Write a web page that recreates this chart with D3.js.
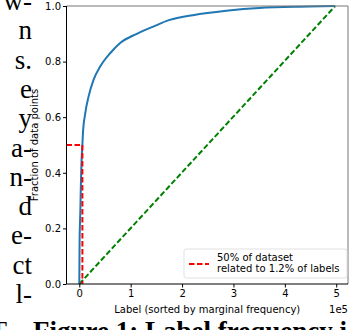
<!DOCTYPE html>
<html>
<head>
<meta charset="utf-8">
<script src="https://cdn.jsdelivr.net/npm/d3@7"></script>
<style>
    body {margin: 0; background: #fff;}
    svg {display: block;}
</style>
</head>
<body>
<svg id="chart" width="354" height="330"></svg>
<script>
// ---- data ----
const labelRank = [0, 300, 600, 1200, 2000, 3000, 5000, 6000, 7000, 11600, 18000, 27700, 40600,
    60000, 79000, 112000, 144000, 176000, 221000, 286000, 350000, 447000, 498000];
const cumFraction = [0, 0.08, 0.16, 0.21, 0.26, 0.35, 0.47, 0.50, 0.54, 0.614, 0.674, 0.734, 0.782,
    0.83, 0.866, 0.90, 0.926, 0.95, 0.967, 0.983, 0.993, 0.998, 1.0];
const uniformRank = [0, 498000];
const uniformFraction = [0, 1];
const cutoffRank = 6000,
    cutoffFraction = 0.5;
const xTicks = [0, 1e5, 2e5, 3e5, 4e5, 5e5];
const yTicks = [0, 0.2, 0.4, 0.6, 0.8, 1.0];
const legendLines = ["50% of dataset", "related to 1.2% of labels"];
const sideWords = ["w-", "n", "s.", "e", "y", "a-", "n-", "d", "e-", "ct", "l-"];
const captionText = "Figure 1: Label frequency i";

// ---- layout ----
const plot = {left: 66.5, right: 348, top: 6, bottom: 284};
const sansFont = "DejaVu Sans, sans-serif";
const serifFont = "Liberation Serif, Times New Roman, serif";

const svg = d3.select("#chart");

let x = d3.scaleLinear()
    .domain([-24900, 522900])
    .range([plot.left, plot.right]);
let y = d3.scaleLinear()
    .domain([0, 1])
    .range([plot.bottom, plot.top]);

// surrounding paper text (cut off by the crop)
svg.append("g")
    .attr("font-family", serifFont)
    .attr("font-size", 27)
    .attr("text-anchor", "end")
    .selectAll("text")
    .data(sideWords)
    .join("text")
    .attr("x", 32)
    .attr("y", (d, i) => 10 + i * 29.3)
    .text(d => d);

svg.append("text")
    .attr("x", 33)
    .attr("y", 340)
    .attr("font-family", serifFont)
    .attr("font-weight", "bold")
    .attr("font-size", 27)
    .text(captionText);
svg.append("text")
    .attr("x", 7)
    .attr("y", 340)
    .attr("text-anchor", "end")
    .attr("font-family", serifFont)
    .attr("font-size", 27)
    .text("T");

// axes
svg.append("g")
    .attr("transform", `translate(0,${plot.bottom})`)
    .call(d3.axisBottom(x).tickValues(xTicks).tickSize(3.5).tickPadding(2).tickFormat(d => d / 1e5))
    .call(g => g.select(".domain").remove())
    .call(g => g.selectAll("text").attr("font-family", sansFont).attr("font-size", 10).attr("fill", "#000"));

svg.append("g")
    .attr("transform", `translate(${plot.left},0)`)
    .call(d3.axisLeft(y).tickValues(yTicks).tickSize(3.5).tickPadding(2).tickFormat(d3.format(".1f")))
    .call(g => g.select(".domain").remove())
    .call(g => g.selectAll("text").attr("font-family", sansFont).attr("font-size", 10).attr("fill", "#000"));

svg.append("text")
    .attr("x", (plot.left + plot.right) / 2)
    .attr("y", 313)
    .attr("text-anchor", "middle")
    .attr("font-family", sansFont)
    .attr("font-size", 10)
    .text("Label (sorted by marginal frequency)");
svg.append("text")
    .attr("x", plot.right)
    .attr("y", 313)
    .attr("text-anchor", "end")
    .attr("font-family", sansFont)
    .attr("font-size", 10)
    .text("1e5");
svg.append("text")
    .attr("transform", `translate(38,${(plot.top + plot.bottom) / 2}) rotate(-90)`)
    .attr("text-anchor", "middle")
    .attr("font-family", sansFont)
    .attr("font-size", 10)
    .text("Fraction of data points");

// lines
const line = d3.line().x(d => x(d[0])).y(d => y(d[1]));

svg.append("path")
    .datum(d3.zip(uniformRank, uniformFraction))
    .attr("d", line)
    .attr("fill", "none")
    .attr("stroke", "#008000")
    .attr("stroke-width", 2)
    .attr("stroke-dasharray", "5.5,2.5");

svg.append("path")
    .datum(d3.zip(labelRank, cumFraction))
    .attr("d", d3.line().x(d => x(d[0])).y(d => y(d[1])).curve(d3.curveMonotoneX))
    .attr("fill", "none")
    .attr("stroke", "#1f77b4")
    .attr("stroke-width", 2);

svg.append("path")
    .datum([[x.domain()[0], cutoffFraction], [cutoffRank, cutoffFraction], [cutoffRank, 0]])
    .attr("d", line)
    .attr("fill", "none")
    .attr("stroke", "#ff0000")
    .attr("stroke-width", 2)
    .attr("stroke-dasharray", "5.5,2.5");

// spines
svg.append("line").attr("x1", plot.left).attr("x2", plot.right).attr("y1", plot.top).attr("y2", plot.top)
    .attr("stroke", "#777").attr("stroke-width", 1);
svg.append("line").attr("x1", plot.right).attr("x2", plot.right).attr("y1", plot.top).attr("y2", plot.bottom)
    .attr("stroke", "#777").attr("stroke-width", 1);
svg.append("line").attr("x1", plot.left).attr("x2", plot.right).attr("y1", plot.bottom).attr("y2", plot.bottom)
    .attr("stroke", "#000").attr("stroke-width", 1);
svg.append("line").attr("x1", plot.left).attr("x2", plot.left).attr("y1", plot.top).attr("y2", plot.bottom)
    .attr("stroke", "#000").attr("stroke-width", 1);

// legend
let legend = svg.append("g").attr("transform", "translate(184,249)");
legend.append("rect")
    .attr("width", 163)
    .attr("height", 29)
    .attr("rx", 2)
    .attr("fill", "#fff")
    .attr("fill-opacity", 0.8)
    .attr("stroke", "#d9d9d9")
    .attr("stroke-width", 0.8);
legend.append("line")
    .attr("x1", 5).attr("x2", 25)
    .attr("y1", 15).attr("y2", 15)
    .attr("stroke", "#ff0000")
    .attr("stroke-width", 2)
    .attr("stroke-dasharray", "5.5,2.5");
legend.selectAll("text.entry")
    .data(legendLines)
    .join("text")
    .classed("entry", true)
    .attr("x", 33)
    .attr("y", (d, i) => 12 + i * 11)
    .attr("font-family", sansFont)
    .attr("font-size", 10)
    .text(d => d);
</script>
</body>
</html>
